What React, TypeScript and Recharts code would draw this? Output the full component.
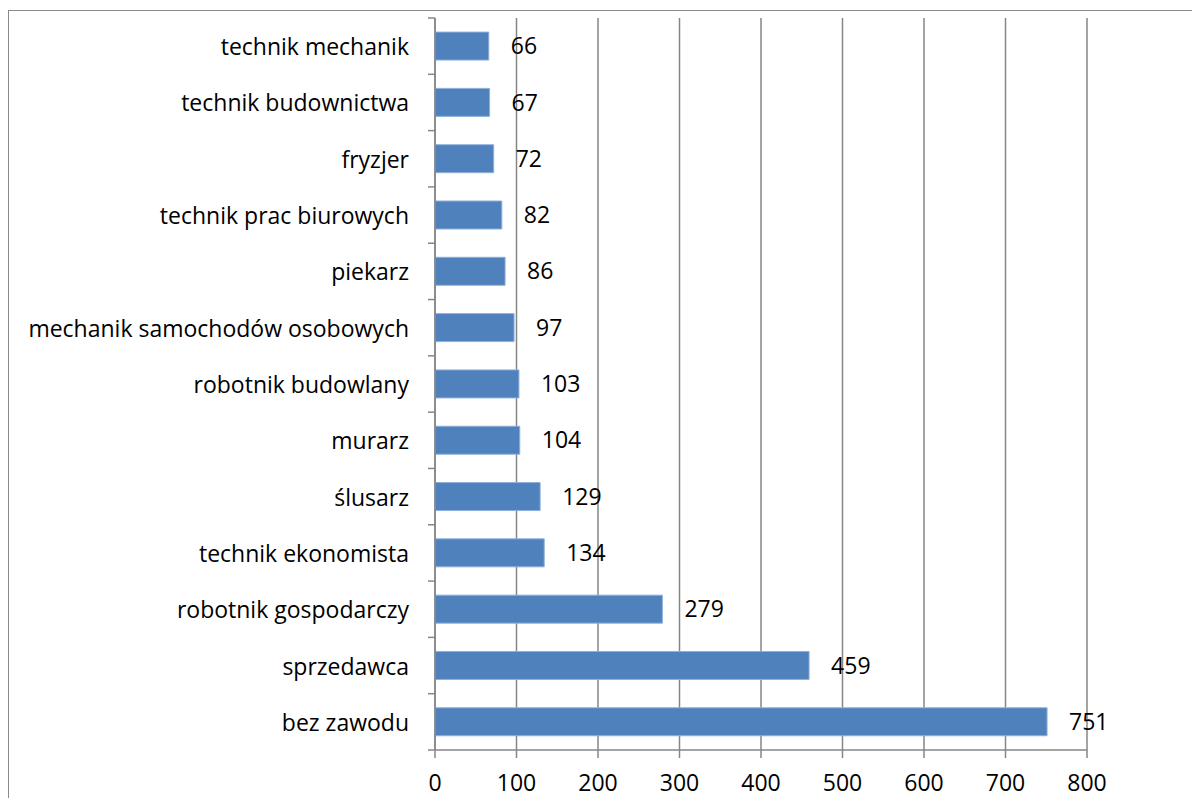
import { BarChart, Bar, XAxis, YAxis, CartesianGrid, LabelList } from 'recharts';

const CATEGORIES = [
  'technik mechanik',
  'technik budownictwa',
  'fryzjer',
  'technik prac biurowych',
  'piekarz',
  'mechanik samochodów osobowych',
  'robotnik budowlany',
  'murarz',
  'ślusarz',
  'technik ekonomista',
  'robotnik gospodarczy',
  'sprzedawca',
  'bez zawodu',
];
const VALUES = [66, 67, 72, 82, 86, 97, 103, 104, 129, 134, 279, 459, 751];
const X_TICKS = [0, 100, 200, 300, 400, 500, 600, 700, 800];

const data = CATEGORIES.map((name, i) => ({ name, value: VALUES[i] }));

// layout
const CHART_W = 1192;
const CHART_H = 790;
const MARGIN = { top: 10, right: 113, bottom: 0, left: 0 };
const Y_AXIS_W = 427;
const X_AXIS_H = 48;
const AXIS_X = MARGIN.left + Y_AXIS_W;
const BAND = (CHART_H - MARGIN.top - MARGIN.bottom - X_AXIS_H) / CATEGORIES.length;
const FONT = '"Open Sans", sans-serif';
const FONT_SIZE = 23;
const AXIS_COLOR = '#868686';

function CategoryTick({ y, payload, index }: { y?: number; payload?: { value: string }; index?: number }) {
  const cy = y ?? 0;
  const last = index === CATEGORIES.length - 1;
  return (
    <g>
      <text
        x={AXIS_X - 26}
        y={cy}
        textAnchor="end"
        dominantBaseline="central"
        fontSize={FONT_SIZE}
        fontFamily={FONT}
        fill="#000"
      >
        {payload?.value}
      </text>
      <line x1={AXIS_X - 7} x2={AXIS_X} y1={cy - BAND / 2} y2={cy - BAND / 2} stroke={AXIS_COLOR} strokeWidth={1.5} />
      {last && (
        <line x1={AXIS_X - 7} x2={AXIS_X} y1={cy + BAND / 2} y2={cy + BAND / 2} stroke={AXIS_COLOR} strokeWidth={1.5} />
      )}
    </g>
  );
}

export default function App() {
  return (
    <div style={{ position: 'relative', width: CHART_W, height: CHART_H, overflow: 'hidden' }}>
      <div
        style={{
          position: 'absolute',
          left: 0,
          top: 2,
          width: 1300,
          height: 900,
          border: '1px solid #8a8a8a',
        }}
      />
      <div style={{ position: 'absolute', left: 0, top: 0 }}>
        <BarChart
          width={CHART_W}
          height={CHART_H}
          data={data}
          layout="vertical"
          margin={MARGIN}
          barCategoryGap="25%"
          style={{ fontFamily: FONT }}
        >
          <CartesianGrid horizontal={false} vertical stroke={AXIS_COLOR} strokeWidth={1.5} />
          <XAxis
            type="number"
            domain={[0, 800]}
            ticks={X_TICKS}
            height={X_AXIS_H}
            tickSize={8}
            tickMargin={17}
            stroke={AXIS_COLOR}
            strokeWidth={1.5}
            tick={{ fill: '#000', fontSize: FONT_SIZE, fontFamily: FONT }}
          />
          <YAxis
            type="category"
            dataKey="name"
            width={Y_AXIS_W}
            tickLine={false}
            stroke={AXIS_COLOR}
            strokeWidth={1.5}
            tick={<CategoryTick />}
            interval={0}
          />
          <Bar dataKey="value" fill="#4F81BD" stroke="#8fb0da" strokeWidth={1} isAnimationActive={false}>
            <LabelList
              dataKey="value"
              position="right"
              offset={22}
              fill="#000"
              fontSize={FONT_SIZE}
              fontFamily={FONT}
            />
          </Bar>
        </BarChart>
      </div>
    </div>
  );
}
